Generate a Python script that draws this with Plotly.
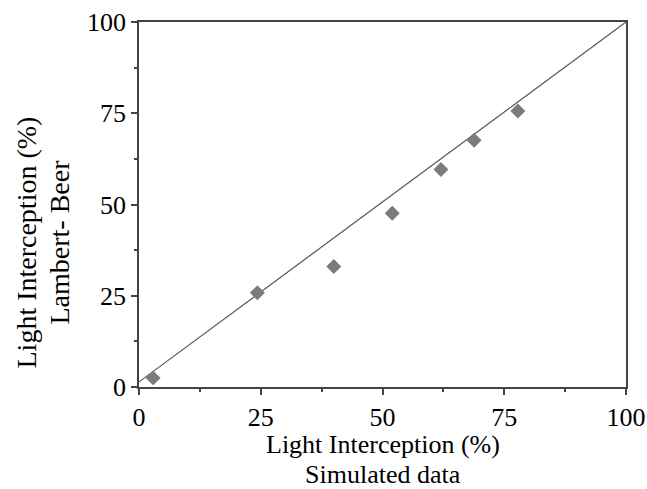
import plotly.graph_objects as go

sim_x = [2.9, 24.3, 40.0, 52.0, 62.0, 68.8, 77.8]
lb_y = [2.5, 25.8, 33.0, 47.6, 59.6, 67.6, 75.6]
line_x = [0, 100]
line_y = [1.4, 100]
tick_vals = [0, 25, 50, 75, 100]
tick_text = ["0", "25", "50", "75", "100"]

FONT = "Liberation Serif, Times New Roman, serif"

fig = go.Figure()
fig.add_trace(go.Scatter(x=line_x, y=line_y, mode="lines",
                         line=dict(color="#555555", width=1.2), showlegend=False))
fig.add_trace(go.Scatter(x=sim_x, y=lb_y, mode="markers",
                         marker=dict(symbol="diamond", size=11.5, color="#7b7b7b"),
                         showlegend=False))

axis_common = dict(
    range=[0, 100], tickvals=tick_vals, ticktext=tick_text,
    showline=True, linecolor="#444444", linewidth=1.5, mirror=True,
    ticks="outside", ticklen=6, tickwidth=1.5, tickcolor="#444444",
    minor=dict(ticks="outside", ticklen=3, tickwidth=1.5, tickcolor="#444444", dtick=12.5, tick0=0),
    showgrid=False, zeroline=False, automargin=False,
    tickfont=dict(family=FONT, size=26, color="black"),
)
fig.update_xaxes(**axis_common)
fig.update_yaxes(**axis_common)

ann_font = dict(family=FONT, size=26, color="black")
ytitle_font = dict(family=FONT, size=28, color="black")
fig.update_layout(
    width=647, height=489,
    margin=dict(l=139, r=21, t=22, b=102),
    plot_bgcolor="white", paper_bgcolor="white",
    annotations=[
        dict(text="Light Interception (%)", x=0.5, y=0, xref="paper", yref="paper",
             xanchor="center", yanchor="middle", yshift=-57, showarrow=False, font=ann_font),
        dict(text="Simulated data", x=0.5, y=0, xref="paper", yref="paper",
             xanchor="center", yanchor="middle", yshift=-87, showarrow=False, font=ann_font),
        dict(text="Light Interception (%)", x=0, y=0.5, xref="paper", yref="paper",
             xanchor="center", yanchor="middle", xshift=-113, yshift=-38, textangle=-90,
             showarrow=False, font=ytitle_font),
        dict(text="Lambert- Beer", x=0, y=0.5, xref="paper", yref="paper",
             xanchor="center", yanchor="middle", xshift=-80, yshift=-38, textangle=-90,
             showarrow=False, font=ytitle_font),
    ],
)

fig.write_html("out.html")
